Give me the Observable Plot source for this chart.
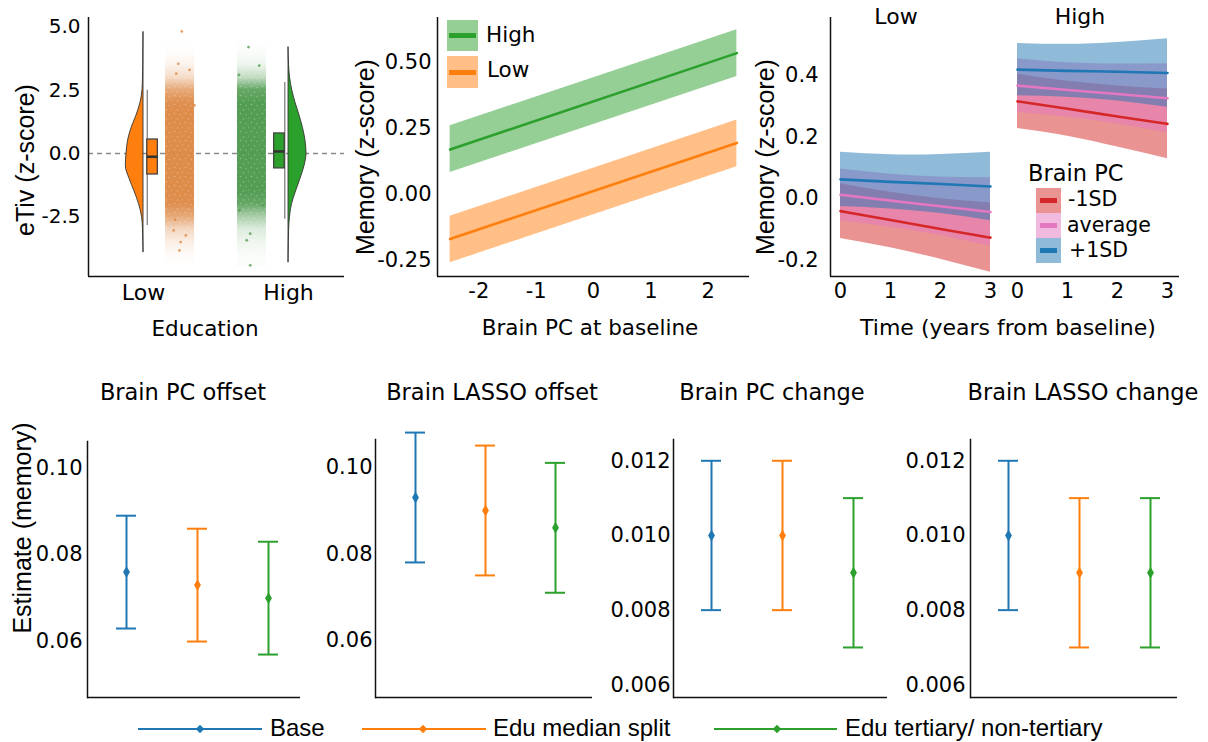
<!DOCTYPE html>
<html><head><meta charset="utf-8">
<script src="https://cdn.jsdelivr.net/npm/d3@7"></script>
<script src="https://cdn.jsdelivr.net/npm/@observablehq/plot@0.6"></script>
<style>
html,body{margin:0;padding:0;background:#fff;}
#root{position:relative;width:1208px;height:742px;overflow:hidden;background:#fff;font-family:"DejaVu Sans",sans-serif;color:#000;}
#root svg{position:absolute;overflow:visible;}
.lbl{position:absolute;white-space:nowrap;line-height:1;}
</style></head>
<body><div id="root"></div>
<script>
// ================= DATA =================
// --- Panel A: eTiv raincloud by education ---
const eduGroups = ["Low", "High"];
const eTivTicks = [-2.5, 0, 2.5, 5.0];
const violinLowY  = [-3.9, -3.5, -3.0, -2.5, -2.0, -1.5, -1.0, -0.5, 0.0, 0.5, 1.0, 1.5, 2.0, 2.5, 3.0, 3.5, 4.0, 4.8];
const violinLowD  = [0, 0.2, 0.5, 1.5, 4.5, 9, 14, 17.7, 17, 15.5, 12, 7, 3, 1, 0.5, 0.3, 0.2, 0];
const violinHighY = [-4.3, -4.0, -3.5, -3.0, -2.5, -2.0, -1.5, -1.0, -0.5, 0.0, 0.5, 1.0, 1.5, 2.0, 2.5, 3.0, 3.5, 4.2];
const violinHighD = [0, 0.1, 0.3, 0.6, 1.5, 3.5, 7.5, 12, 16, 18, 17, 14.5, 11, 7, 3.7, 1.5, 0.5, 0];
const boxQ1     = [-0.83, -0.59];
const boxMedian = [-0.13, 0.08];
const boxQ3     = [0.55, 0.79];
const whiskerLo = [-2.85, -2.6];
const whiskerHi = [2.5, 2.8];
const cloudY     = [-4.5, -4.0, -3.5, -3.0, -2.5, -2.0, -1.5, -1.0, -0.5, 0.0, 0.5, 1.0, 1.5, 2.0, 2.5, 3.0, 3.5, 4.0, 4.5, 5.0];
const cloudLowD  = [0, 0.04, 0.15, 0.35, 0.75, 0.97, 1, 1, 1, 1, 1, 1, 1, 0.97, 0.75, 0.3, 0.1, 0.02, 0, 0];
const cloudHighD = [0.02, 0.04, 0.1, 0.2, 0.5, 0.9, 1, 1, 1, 1, 1, 1, 1, 1, 0.9, 0.35, 0.1, 0.03, 0, 0];
const lowOutY  = [4.82, 3.54, 3.30, 3.15, 1.9, -2.62, -3.04, -3.24, -3.5, -3.83];
const lowOutJ  = [0.56, 0.44, 0.83, 0.37, 1.0, 0.33, 0.28, 0.7, 0.52, 0.48];
const highOutY = [4.2, 3.47, 3.1, -2.05, -2.25, -3.17, -3.43, -4.42];
const highOutJ = [0.62, 0.25, 0.95, 0.12, 0.93, 0.56, 0.68, 0.56];

// --- Panel B: memory vs brain PC at baseline ---
const brainPCx = [-2.5, 2.5];
const highFit = [0.170, 0.535];
const highLo  = [0.083, 0.447];
const highHi  = [0.260, 0.624];
const lowFit  = [-0.169, 0.195];
const lowLo   = [-0.259, 0.105];
const lowHi   = [-0.083, 0.282];
const memTicksB = [-0.25, 0, 0.25, 0.5];
const pcTicks = [-2, -1, 0, 1, 2];

// --- Panel C: memory over time by brain PC level, faceted by education ---
const timeX = [0, 1, 2, 3];
const pcLevels = ["-1SD", "average", "+1SD"];
const lowM1Fit = [-0.041, -0.070, -0.099, -0.127];
const lowM1Lo  = [-0.130, -0.160, -0.197, -0.239];
const lowM1Hi  = [0.048, 0.020, -0.001, -0.015];
const lowAvFit = [0.012, -0.007, -0.025, -0.044];
const lowAvLo  = [-0.072, -0.093, -0.120, -0.155];
const lowAvHi  = [0.096, 0.079, 0.070, 0.067];
const lowP1Fit = [0.062, 0.054, 0.047, 0.039];
const lowP1Lo  = [-0.026, -0.034, -0.049, -0.072];
const lowP1Hi  = [0.150, 0.142, 0.143, 0.150];
const highM1Fit = [0.315, 0.291, 0.266, 0.242];
const highM1Lo  = [0.227, 0.202, 0.167, 0.129];
const highM1Hi  = [0.403, 0.380, 0.365, 0.355];
const highAvFit = [0.366, 0.352, 0.339, 0.325];
const highAvLo  = [0.279, 0.264, 0.242, 0.213];
const highAvHi  = [0.453, 0.440, 0.436, 0.437];
const highP1Fit = [0.418, 0.414, 0.411, 0.407];
const highP1Lo  = [0.333, 0.328, 0.316, 0.296];
const highP1Hi  = [0.503, 0.500, 0.506, 0.518];
const memTicksC = [-0.2, 0, 0.2, 0.4];

// --- Bottom: estimates with intervals ---
const models = ["Base", "Edu median split", "Edu tertiary/ non-tertiary"];
const pcOffsetEst = [0.076, 0.073, 0.070];
const pcOffsetLo  = [0.063, 0.060, 0.057];
const pcOffsetHi  = [0.089, 0.086, 0.083];
const lassoOffsetEst = [0.093, 0.090, 0.086];
const lassoOffsetLo  = [0.078, 0.075, 0.071];
const lassoOffsetHi  = [0.108, 0.105, 0.101];
const pcChangeEst = [0.010, 0.010, 0.009];
const pcChangeLo  = [0.008, 0.008, 0.007];
const pcChangeHi  = [0.012, 0.012, 0.011];
const lassoChangeEst = [0.010, 0.009, 0.009];
const lassoChangeLo  = [0.008, 0.007, 0.007];
const lassoChangeHi  = [0.012, 0.011, 0.011];
const offsetTicks = [0.06, 0.08, 0.10];
const changeTicks = [0.006, 0.008, 0.010, 0.012];

// ================= STYLE =================
const C = {orange:"#ff7f0e", green:"#2ca02c", blue:"#1f77b4", red:"#d62728", pink:"#e377c2",
  cloudLow:"#dc8640", cloudHigh:"#4b984b", axis:"#111"};
const modelColors = [C.blue, C.orange, C.green];
const pcColors = [C.red, C.pink, C.blue];
const FONT = "DejaVu Sans, sans-serif";
const root = document.getElementById("root");

function put(svg, left, top) { svg.style.left = left + "px"; svg.style.top = top + "px"; root.appendChild(svg); return svg; }
function label(str, x, y, size, {anchor = "middle", family = FONT, rotate = false} = {}) {
  const d = document.createElement("div");
  d.className = "lbl"; d.textContent = str;
  d.style.fontSize = size + "px"; d.style.fontFamily = family;
  if (rotate) {
    d.style.left = x + "px"; d.style.top = y + "px";
    d.style.transform = "translate(-50%,-50%) rotate(-90deg)";
  } else {
    d.style.left = x + "px"; d.style.top = (y - 0.49 * size) + "px";
    if (anchor === "middle") d.style.transform = "translateX(-50%)";
  }
  root.appendChild(d); return d;
}
function box(x, y, w, h, bg) {
  const d = document.createElement("div");
  Object.assign(d.style, {position:"absolute", left:x+"px", top:y+"px", width:w+"px", height:h+"px", background:bg});
  root.appendChild(d); return d;
}
const plotStyle = {fontFamily: FONT, fontSize: "21px", color: "#000", background: "transparent", overflow: "visible"};

// ================= PANEL A =================
{
  const L = {w:350, h:345, ml:88, mr:6, mt:17, mb:69, xd:[0.6207, 2.386], yd:[-4.86, 5.37]};
  const VW = 0.124 / 18, BOXO = [0.026, 0.099], CLOUDO = [0.152, 0.352];
  const rows = eduGroups.map((g, i) => ({g, pos: i + 1, dir: i === 0 ? 1 : -1,
    q1: boxQ1[i], med: boxMedian[i], q3: boxQ3[i], lo: whiskerLo[i], hi: whiskerHi[i]}));
  const fills = {Low: C.orange, High: C.green};
  const cloudCol = {Low: C.cloudLow, High: C.cloudHigh};
  const vLow = violinLowY.map((y, i) => ({y, x1: 1, x2: 1 - violinLowD[i] * VW}));
  const vHigh = violinHighY.map((y, i) => ({y, x1: 2, x2: 2 + violinHighD[i] * VW}));
  const outs = [
    ...lowOutY.map((y, i) => ({g:"Low", y, x: 1 + CLOUDO[0] + lowOutJ[i] * (CLOUDO[1] - CLOUDO[0])})),
    ...highOutY.map((y, i) => ({g:"High", y, x: 2 - CLOUDO[0] - highOutJ[i] * (CLOUDO[1] - CLOUDO[0])}))
  ];
  const yMin = d3.min(cloudY), yMax = d3.max(cloudY);
  const svg = Plot.plot({
    width: L.w, height: L.h, marginLeft: L.ml, marginRight: L.mr, marginTop: L.mt, marginBottom: L.mb,
    style: plotStyle,
    x: {domain: L.xd}, y: {domain: L.yd},
    marks: [
      Plot.ruleY([0], {stroke: "#8a8a8a", strokeDasharray: "5,4", strokeWidth: 1.4}),
      ...rows.map(r => Plot.rect([r], {x1: r.pos + r.dir * CLOUDO[0], x2: r.pos + r.dir * CLOUDO[1], y1: yMin, y2: yMax, fill: `url(#cloud${r.g})`})),
      ...rows.map(r => Plot.rect([r], {x1: r.pos + r.dir * CLOUDO[0], x2: r.pos + r.dir * CLOUDO[1], y1: yMin, y2: yMax, fill: "url(#speckle)"})),
      Plot.dot(outs.filter(d => d.g === "Low"), {x: "x", y: "y", r: 1.4, fill: C.cloudLow, fillOpacity: 0.75}),
      Plot.dot(outs.filter(d => d.g === "High"), {x: "x", y: "y", r: 1.4, fill: C.cloudHigh, fillOpacity: 0.75}),
      Plot.areaX(vLow, {y: "y", x1: "x1", x2: "x2", fill: C.orange, stroke: "#333", strokeWidth: 0.9, curve: "monotone-y"}),
      Plot.areaX(vHigh, {y: "y", x1: "x1", x2: "x2", fill: C.green, stroke: "#333", strokeWidth: 0.9, curve: "monotone-y"}),
      ...rows.map(r => Plot.ruleX([r], {x: r.pos + r.dir * BOXO[0], y1: "lo", y2: "hi", stroke: "#8a8a8a", strokeWidth: 1.4})),
      ...rows.map(r => Plot.rect([r], {x1: r.pos + r.dir * BOXO[0], x2: r.pos + r.dir * BOXO[1], y1: "q1", y2: "q3", fill: fills[r.g], stroke: "#444", strokeWidth: 1.3})),
      ...rows.map(r => Plot.ruleY([r], {y: "med", x1: r.pos + r.dir * BOXO[0], x2: r.pos + r.dir * BOXO[1], stroke: "#333", strokeWidth: 2.6})),
      Plot.axisY({ticks: eTivTicks, tickSize: 0, tickPadding: 8, tickFormat: d => d.toFixed(1), label: null, fontSize: 20}),
      Plot.axisX({ticks: [1, 2], tickSize: 0, tickPadding: 8, tickFormat: d => eduGroups[d - 1], label: null, fontSize: 22}),
      Plot.ruleX([L.xd[0]], {stroke: C.axis, strokeWidth: 1.5}),
      Plot.ruleY([L.yd[0]], {stroke: C.axis, strokeWidth: 1.5})
    ]
  });
  const defs = d3.select(svg).insert("defs", ":first-child");
  [["Low", cloudLowD], ["High", cloudHighD]].forEach(([g, dens]) => {
    const grad = defs.append("linearGradient").attr("id", "cloud" + g).attr("x1", 0).attr("y1", 0).attr("x2", 0).attr("y2", 1);
    cloudY.map((y, i) => ({y, d: dens[i]})).sort((a, b) => b.y - a.y).forEach(s =>
      grad.append("stop").attr("offset", (yMax - s.y) / (yMax - yMin)).attr("stop-color", cloudCol[g]).attr("stop-opacity", s.d * 0.95));
  });
  const pat = defs.append("pattern").attr("id", "speckle").attr("patternUnits", "userSpaceOnUse").attr("width", 11).attr("height", 9);
  [[1.5, 2, 0.8], [6.5, 1, 0.6], [9.5, 5.5, 0.8], [4, 6.5, 0.7]].forEach(([cx, cy, r]) =>
    pat.append("circle").attr("cx", cx).attr("cy", cy).attr("r", r).attr("fill", "#fff").attr("fill-opacity", 0.3));
  put(svg, 0, 0);
  label("eTiv (z-score)", 25, 160, 25, {rotate: true, family: "Liberation Sans, Arial, sans-serif"});
  label("Education", 205, 329, 21.5);
}

// ================= PANEL B =================
{
  const L = {left:350, w:410, ml:87, mr:11, h:345, mt:17, mb:69, xd:[-2.72, 2.72], yd:[-0.311, 0.670]};
  const hi = brainPCx.map((x, i) => ({x, fit: highFit[i], lo: highLo[i], hi: highHi[i]}));
  const lo = brainPCx.map((x, i) => ({x, fit: lowFit[i], lo: lowLo[i], hi: lowHi[i]}));
  const svg = Plot.plot({
    width: L.w, height: L.h, marginLeft: L.ml, marginRight: L.mr, marginTop: L.mt, marginBottom: L.mb,
    style: plotStyle, x: {domain: L.xd}, y: {domain: L.yd},
    marks: [
      Plot.areaY(hi, {x: "x", y1: "lo", y2: "hi", fill: C.green, fillOpacity: 0.5}),
      Plot.areaY(lo, {x: "x", y1: "lo", y2: "hi", fill: C.orange, fillOpacity: 0.5}),
      Plot.lineY(hi, {x: "x", y: "fit", stroke: C.green, strokeWidth: 2.6}),
      Plot.lineY(lo, {x: "x", y: "fit", stroke: C.orange, strokeWidth: 2.6}),
      Plot.axisY({ticks: memTicksB, tickSize: 0, tickPadding: 6, tickFormat: d => d.toFixed(2), label: null}),
      Plot.axisX({ticks: pcTicks, tickSize: 0, tickPadding: 7, tickFormat: d => String(d), label: null}),
      Plot.ruleX([L.xd[0]], {stroke: C.axis, strokeWidth: 1.5}),
      Plot.ruleY([L.yd[0]], {stroke: C.axis, strokeWidth: 1.5})
    ]
  });
  put(svg, L.left, 0);
  label("Memory (z-score)", 365, 157, 25, {rotate: true, family: "Liberation Sans, Arial, sans-serif"});
  label("Brain PC at baseline", 590, 328, 21.5);
  box(447, 20, 31, 31, "rgba(44,160,44,0.5)"); box(449, 33, 27, 5, C.green);
  box(447, 56, 31, 32, "rgba(255,127,14,0.5)"); box(449, 69.5, 27, 5, C.orange);
  label("High", 486, 35, 21.5, {anchor: "start"});
  label("Low", 487, 70, 21.5, {anchor: "start"});
}

// ================= PANEL C =================
{
  const yd = [-0.253, 0.587];
  const mk = (fit, lo, hi) => timeX.map((t, i) => ({t, fit: fit[i], lo: lo[i], hi: hi[i]}));
  const facets = {
    Low: [mk(lowM1Fit, lowM1Lo, lowM1Hi), mk(lowAvFit, lowAvLo, lowAvHi), mk(lowP1Fit, lowP1Lo, lowP1Hi)],
    High: [mk(highM1Fit, highM1Lo, highM1Hi), mk(highAvFit, highAvLo, highAvHi), mk(highP1Fit, highP1Lo, highP1Hi)]
  };
  const layouts = {
    Low: {left: 780, w: 220, ml: 50, xd: [-0.2, 3.2], yAxis: true},
    High: {left: 1000, w: 179, ml: 0, xd: [-0.34, 3.24], yAxis: false}
  };
  for (const g of eduGroups) {
    const L = layouts[g], series = facets[g];
    const svg = Plot.plot({
      width: L.w, height: 345, marginLeft: L.ml, marginRight: 0, marginTop: 17, marginBottom: 69,
      style: plotStyle, x: {domain: L.xd, axis: null}, y: {domain: yd, axis: null},
      marks: [
        ...series.map((s, k) => Plot.areaY(s, {x: "t", y1: "lo", y2: "hi", fill: pcColors[k], fillOpacity: 0.5, curve: "natural"})),
        ...series.map((s, k) => Plot.lineY(s, {x: "t", y: "fit", stroke: pcColors[k], strokeWidth: 2.6, curve: "natural"})),
        L.yAxis ? Plot.axisY({ticks: memTicksC, tickSize: 0, tickPadding: 12, tickFormat: d => d.toFixed(1), label: null}) : null,
        Plot.axisX({ticks: timeX, tickSize: 0, tickPadding: 7, tickFormat: d => String(d), label: null}),
        L.yAxis ? Plot.ruleX([L.xd[0]], {stroke: C.axis, strokeWidth: 1.5}) : null,
        Plot.ruleY([yd[0]], {stroke: C.axis, strokeWidth: 1.5})
      ]
    });
    put(svg, L.left, 0);
  }
  label("Low", 896, 17, 22);
  label("High", 1080, 17, 22);
  label("Memory (z-score)", 765, 157, 25, {rotate: true, family: "Liberation Sans, Arial, sans-serif"});
  label("Time (years from baseline)", 1008, 328, 22);
  label("Brain PC", 1028, 173, 22.5, {anchor: "start"});
  const keyFill = ["rgba(214,39,40,0.5)", "rgba(227,119,194,0.5)", "rgba(31,119,180,0.5)"];
  const keyTop = [187.5, 212.5, 237.5];
  pcLevels.forEach((lv, k) => {
    box(1036, keyTop[k], 25, 25.5, keyFill[k]);
    box(1040, keyTop[k] + 10.5, 17, 4.5, pcColors[k]);
  });
  label("-1SD", 1068, 199.5, 20.5, {anchor: "start"});
  label(" average", 1067, 225, 20.5, {anchor: "start"});
  label("+1SD", 1069, 250, 20.5, {anchor: "start"});
}

// ================= BOTTOM PANELS =================
function forest(cfg) {
  const rows = models.map((m, i) => ({m, est: cfg.est[i], lo: cfg.lo[i], hi: cfg.hi[i]}));
  const bw = 20, span = cfg.c[2] - cfg.c[0] + bw;
  const pIn = (span - 3 * bw) / (span - bw);
  const svg = Plot.plot({
    width: cfg.w, height: 320, marginLeft: cfg.ml, marginRight: cfg.w - cfg.ml - cfg.frameW, marginTop: cfg.mt, marginBottom: 3,
    style: plotStyle,
    x: {type: "band", domain: models, range: [cfg.c[0] - bw / 2, cfg.c[2] + bw / 2], paddingInner: pIn, paddingOuter: 0, axis: null},
    y: {domain: cfg.yd},
    color: {type: "ordinal", domain: models, range: modelColors},
    marks: [
      Plot.ruleX(rows, {x: "m", y1: "lo", y2: "hi", stroke: "m", strokeWidth: 2}),
      Plot.tickY(rows, {x: "m", y: "lo", stroke: "m", strokeWidth: 2}),
      Plot.tickY(rows, {x: "m", y: "hi", stroke: "m", strokeWidth: 2}),
      Plot.dot(rows, {x: "m", y: "est", fill: "m", symbol: "diamond", r: 3.6}),
      Plot.axisY({ticks: cfg.ticks, tickSize: 0, tickPadding: cfg.pad, tickFormat: d => d.toFixed(cfg.dec), label: null}),
      Plot.ruleY([cfg.yd[0]], {stroke: C.axis, strokeWidth: 1.5}),
      Plot.frame({anchor: "left", stroke: C.axis, strokeWidth: 1.5})
    ]
  });
  put(svg, cfg.left, 380);
  label(cfg.title, cfg.tx, 392, 22.5);
}
forest({title: "Brain PC offset", tx: 183, left: 0, w: 310, ml: 87, frameW: 213, mt: 61, yd: [0.0471, 0.1061],
  ticks: offsetTicks, dec: 2, pad: 5, c: [125.7, 196.7, 267.7], est: pcOffsetEst, lo: pcOffsetLo, hi: pcOffsetHi});
forest({title: "Brain LASSO offset", tx: 492, left: 320, w: 300, ml: 55, frameW: 217, mt: 59, yd: [0.0468, 0.1064],
  ticks: offsetTicks, dec: 2, pad: 3, c: [94.3, 165, 236], est: lassoOffsetEst, lo: lassoOffsetLo, hi: lassoOffsetHi});
forest({title: "Brain PC change", tx: 772, left: 600, w: 300, ml: 73, frameW: 214, mt: 59, yd: [0.00566, 0.01257],
  ticks: changeTicks, dec: 3, pad: 3, c: [111, 182.3, 253.3], est: pcChangeEst, lo: pcChangeLo, hi: pcChangeHi});
forest({title: "Brain LASSO change", tx: 1083, left: 890, w: 310, ml: 80, frameW: 207, mt: 59, yd: [0.00566, 0.01257],
  ticks: changeTicks, dec: 3, pad: 5, c: [117.3, 189, 261], est: lassoChangeEst, lo: lassoChangeLo, hi: lassoChangeHi});
label("Estimate (memory)", 22, 528, 25, {rotate: true, family: "Liberation Sans, Arial, sans-serif"});

// bottom legend
{
  const items = [{x0: 138, x1: 262, dx: 200, tx: 270}, {x0: 362, x1: 486, dx: 423, tx: 493}, {x0: 714, x1: 837, dx: 777, tx: 845}];
  models.forEach((m, i) => {
    const it = items[i];
    box(it.x0, 728, it.x1 - it.x0, 2, modelColors[i]);
    const dm = box(it.dx - 3, 726, 6, 6, modelColors[i]);
    dm.style.transform = "rotate(45deg)";
    label(m, it.tx, 727.5, 24, {anchor: "start", family: "Liberation Sans, Arial, sans-serif"});
  });
}
</script>
</body></html>
